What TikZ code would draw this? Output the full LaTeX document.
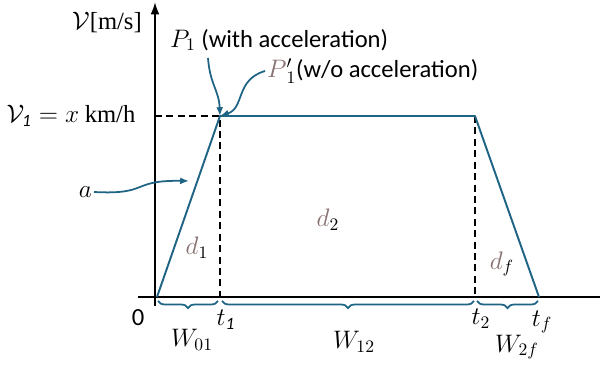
\documentclass[tikz,border=0pt]{standalone}
\usepackage{fontspec}
\setmainfont{Carlito}
\newfontfamily\unitfont{Liberation Serif}
\usetikzlibrary{positioning, arrows.meta, decorations.pathreplacing}

\definecolor{lineblue}{RGB}{31,100,132}
\definecolor{dtaupe}{RGB}{135,112,112}

\begin{document}
\begin{tikzpicture}[
      x=0.02cm, y=-0.02cm,
      font=\fontsize{14}{16}\selectfont,
      axis/.style={line width=1.1pt, black},
      profile/.style={line width=1.1pt, lineblue, line join=round},
      guide/.style={dash pattern=on 4pt off 2.5pt, line width=1pt, black},
      pointer/.style={-{Latex[length=5pt, width=4pt]}, line width=1pt, lineblue},
      span/.style={decorate, decoration={brace, mirror, amplitude=4pt}, line width=1pt, lineblue},
      lbl/.style={inner sep=1pt}
    ]
    \useasboundingbox (0,0) rectangle (600,367);

    % corners of the speed profile
    \coordinate (start) at (157,297);
    \coordinate (p1) at (220,116);
    \coordinate (p2) at (475,116);
    \coordinate (stop) at (539,297);
    \coordinate (t1foot) at (220,297);
    \coordinate (t2foot) at (475,297);
    \coordinate (vaxis) at (155,116);

    % axes
    \draw[axis] (138,297) -- (600,297);
    \draw[axis, -{Latex[length=7pt, width=5pt]}] (155,306) -- (155,2);

    % dashed guides
    \draw[guide] (vaxis) -- (p1) -- (t1foot);
    \draw[guide] (p2) -- (t2foot);

    % profile
    \draw[profile] (start) -- (p1) -- (p2) -- (stop);

    % braces
    \draw[span] (158,301) -- (218,301) coordinate[midway] (w01);
    \draw[span] (222,301) -- (474,301) coordinate[midway] (w12);
    \draw[span] (477,301) -- (538,301) coordinate[midway] (w2f);

    % labels
    \node[lbl] (vunit) at (107,23) {$\mathcal{V}${\unitfont[m/s]}};
    \node[lbl] (vone) at (71,116) {$\mathcal{V}_{\mathit{1}} = x$ {\unitfont km/h}};
    \node[lbl] (zero) at (138,318) {0};
    \node[lbl] (t1) at (226,320) {$t_{\mathit{1}}$};
    \node[lbl] (t2) at (481,319) {$t_2$};
    \node[lbl] (tf) at (542,322) {$t_f$};
    \node[lbl] (W01) at (192,340) {$W_{01}$};
    \node[lbl] (W12) at (354,342) {$W_{12}$};
    \node[lbl] (W2f) at (517,347) {$W_{2f}$};
    \node[lbl] (d1) at (197,248) {$\textcolor{dtaupe}{d}_1$};
    \node[lbl] (d2) at (328,220) {$\textcolor{dtaupe}{d}_2$};
    \node[lbl] (df) at (502,264) {$\textcolor{dtaupe}{d}_f$};
    \node[lbl, anchor=east] (acc) at (94,192) {$a$};
    \node[lbl, anchor=west] (pwith) at (168,40) {$P_1$ (with acceleration)};
    \node[lbl, anchor=west] (pwo) at (265,71) {$\textcolor{dtaupe}{P}'_1$(w/o acceleration)};

    % pointers
    \coordinate (accend) at (189,181);
    \draw[pointer] (acc.east) .. controls (150,195) and (130,180) .. (accend);
    \draw[pointer] (208,58) .. controls (210,85) and (219,90) .. (p1);
    \draw[pointer] (pwo.west) .. controls (235,80) and (245,108) .. (p1);
\end{tikzpicture}
\end{document}
